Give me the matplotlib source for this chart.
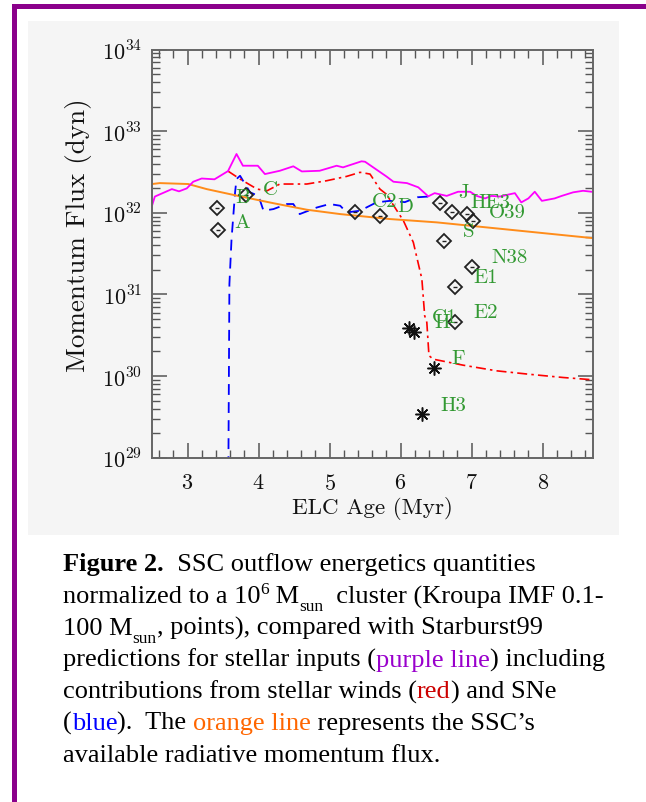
import numpy as np
import matplotlib

matplotlib.use("Agg")
import matplotlib.pyplot as plt
from matplotlib.patches import Rectangle
from matplotlib.ticker import LogLocator, MultipleLocator, FuncFormatter, NullFormatter

plt.rcParams["mathtext.fontset"] = "cm"
plt.rcParams["font.family"] = "cmr10"
plt.rcParams["axes.formatter.use_mathtext"] = True

W, H = 646, 803
UNIT = 1e32  # all fluxes below are in units of 1e32 dyn

# Starburst99 total stellar input (purple/magenta line)
total_age = [2.50, 2.54, 2.78, 2.88, 2.99, 3.08, 3.20, 3.38, 3.57, 3.69, 3.78, 3.99, 4.09,
             4.30, 4.49, 4.61, 4.86, 5.10, 5.19, 5.45, 5.50, 5.80, 5.90, 6.09, 6.25, 6.39,
             6.48, 6.65, 6.81, 6.98, 7.07, 7.19, 7.28, 7.40, 7.49, 7.61, 7.70, 7.80, 7.89,
             7.99, 8.17, 8.27, 8.43, 8.57, 8.69]
total_flux = [1.22, 1.58, 1.95, 1.83, 1.99, 2.40, 2.63, 2.57, 3.24, 5.25, 3.77, 3.77, 2.98,
              3.27, 3.71, 3.21, 3.27, 3.77, 3.60, 4.27, 4.22, 2.79, 2.40, 2.31, 2.05, 1.59,
              1.74, 1.61, 1.81, 1.81, 1.61, 1.50, 1.61, 1.58, 1.65, 1.74, 1.34, 1.50, 1.81,
              1.40, 1.50, 1.61, 1.78, 1.86, 1.81]

# stellar winds (red dash-dot)
wind_age = [3.57, 3.74, 3.98, 4.12, 4.30, 4.68, 4.96, 5.24, 5.43, 5.57, 5.71, 5.80, 6.04,
            6.18, 6.30, 6.34, 6.37, 6.40, 6.46, 6.88, 7.35, 7.82, 8.29, 8.71]
wind_flux = [3.24, 2.59, 1.95, 1.86, 2.25, 2.25, 2.47, 2.79, 3.13, 2.98, 1.95, 1.69, 0.80,
             0.434, 0.155, 0.0547, 0.0454, 0.0178, 0.0161, 0.0136, 0.0116, 0.0105, 0.0096,
             0.0090]

# supernovae (blue dashed)
sne_age = [3.57, 3.59, 3.62, 3.67, 3.69, 3.74, 3.88, 4.00, 4.07, 4.21, 4.40, 4.49, 4.58,
           4.82, 5.00, 5.15, 5.24, 5.43, 5.66, 5.85, 6.06, 6.24, 6.39]
sne_flux = [0.0001, 0.134, 0.476, 1.78, 2.59, 2.84, 1.78, 1.61, 1.06, 1.11, 1.28, 1.28, 0.964,
            1.16, 1.28, 1.22, 1.01, 1.06, 1.34, 1.40, 1.35, 1.55, 1.58]

# available radiative momentum flux (orange)
rad_age = [2.50, 2.61, 3.01, 3.27, 3.74, 4.21, 4.68, 5.15, 5.85, 6.51, 7.45, 8.70]
rad_flux = [2.25, 2.31, 2.25, 1.95, 1.59, 1.31, 1.09, 0.964, 0.838, 0.763, 0.631, 0.490]

# SSC measurements, diamonds
ssc_age = [3.42, 3.43, 3.82, 5.36, 5.71, 6.55, 6.73, 6.94, 7.02, 6.61, 7.01, 6.76, 6.77]
ssc_flux = [1.13, 0.62, 1.65, 1.03, 0.918, 1.31, 1.01, 0.964, 0.80, 0.454, 0.214, 0.122, 0.0454]

# SSC measurements, asterisks
star_age = [6.12, 6.19, 6.47, 6.30]
star_flux = [0.0383, 0.0342, 0.0124, 0.0034]

# cluster names
name_text = ["C", "B", "A", "C2", "D", "J", "HE3", "O39", "S", "N38", "E1", "E2", "C1", "H",
             "F", "H3"]
name_age = [4.17, 3.77, 3.77, 5.78, 6.07, 6.88, 7.26, 7.51, 6.96, 7.54, 7.20, 7.20, 6.62, 6.58,
            6.81, 6.74]
name_flux = [1.95, 1.55, 0.776, 1.40, 1.22, 1.78, 1.35, 1.02, 0.603, 0.286, 0.162, 0.0603,
             0.0525, 0.0454, 0.0166, 0.00447]


def px_rect(x, y, w, h, **kw):
    return Rectangle((x / W, 1 - (y + h) / H), w / W, h / H, transform=fig.transFigure, **kw)


fig = plt.figure(figsize=(W / 100, H / 100), dpi=100, facecolor="white")

# page frame and grey panel
fig.add_artist(px_rect(12, 5, 4.5, H, color="#8b008b", lw=0, zorder=-2))
fig.add_artist(px_rect(12, 5, W, 4.5, color="#8b008b", lw=0, zorder=-2))
fig.add_artist(px_rect(28, 22, 591, 514, color="#f5f5f5", lw=0, zorder=-1))

ax = fig.add_axes([152 / W, 1 - 458.7 / H, 441 / W, 408.2 / H])
ax.set_facecolor("#f5f5f5")

ax.plot(sne_age, np.array(sne_flux) * UNIT, color="#0000ff", lw=1.3, ls=(0, (6, 4)))
ax.plot(wind_age, np.array(wind_flux) * UNIT, color="#ff0000", lw=1.2, ls=(0, (6, 2.5, 1.5, 2.5)))
ax.plot(rad_age, np.array(rad_flux) * UNIT, color="#ff8c1a", lw=1.4)
ax.plot(total_age, np.array(total_flux) * UNIT, color="#ff00ff", lw=1.3)

ax.plot(ssc_age, np.array(ssc_flux) * UNIT, ls="none", marker="D", ms=7, mfc="none",
        mec="#222222", mew=1.3, zorder=4)
ax.plot(ssc_age, np.array(ssc_flux) * UNIT, ls="none", marker="_", ms=3.5, mec="#222222",
        mew=1.0, zorder=4)
ax.plot(star_age, np.array(star_flux) * UNIT, ls="none", marker=(8, 2, 0), ms=10, mec="#111111",
        mew=1.1, zorder=4)
ax.plot(star_age, np.array(star_flux) * UNIT, ls="none", marker="o", ms=3, mfc="#111111",
        mec="#111111", zorder=4)

for name, a, f in zip(name_text, name_age, name_flux):
    ax.text(a, f * UNIT, name, color="#339933", fontsize=15, ha="center", va="center", zorder=5)

ax.set_yscale("log")
ax.set_ylim(1e29, 1e34)
ax.set_xlim(2.5, 8.71)
ax.xaxis.set_major_locator(MultipleLocator(1))
ax.xaxis.set_minor_locator(MultipleLocator(0.2))
ax.yaxis.set_major_locator(LogLocator(base=10, numticks=10))
ax.yaxis.set_minor_locator(LogLocator(base=10, subs=np.arange(2, 10), numticks=100))
ax.yaxis.set_minor_formatter(NullFormatter())
ax.yaxis.set_major_formatter(FuncFormatter(lambda v, _: r"$10^{%d}$" % round(np.log10(v))))

ax.tick_params(which="both", direction="in", top=True, right=True, color="#555555",
               labelcolor="#111111", labelsize=16)
ax.tick_params(which="major", length=11, width=1.1, pad=11)
ax.tick_params(which="minor", length=6, width=1.0)
ax.tick_params(axis="y", which="major", pad=7)
for s in ax.spines.values():
    s.set_color("#666666")
    s.set_linewidth(1.4)

ax.set_xlabel("ELC Age (Myr)", fontsize=16.6, color="#111111")
ax.set_ylabel("Momentum Flux (dyn)", fontsize=19.5, color="#111111")
ax.xaxis.set_label_coords(0.5, -0.094)
ax.yaxis.set_label_coords(-0.135, 0.548)

# caption, drawn run by run so colours / sub- and superscripts line up
cap = dict(family="Liberation Serif", fontsize=19, color="black")
small = dict(cap, fontsize=12.5)
renderer = fig.canvas.get_renderer()


def run_width(s, props):
    t1 = fig.text(0, 0, "|" + s + "|", **props)
    t2 = fig.text(0, 0, "||", **props)
    w = t1.get_window_extent(renderer).width - t2.get_window_extent(renderer).width
    t1.remove()
    t2.remove()
    return w


caption_lines = [
    [("Figure 2.", dict(cap, weight="bold"), 0), ("  SSC outflow energetics quantities", cap, 0)],
    [("normalized to a 10", cap, 0), ("6", small, -9), (" M", cap, 0), ("sun", small, 8),
     ("  cluster (Kroupa IMF 0.1-", cap, 0)],
    [("100 M", cap, 0), ("sun", small, 8), (", points), compared with Starburst99", cap, 0)],
    [("predictions for stellar inputs (", cap, 0), ("purple line", dict(cap, color="#9900cc"), 0),
     (") including", cap, 0)],
    [("contributions from stellar winds (", cap, 0), ("red", dict(cap, color="#cc0000"), 0),
     (") and SNe", cap, 0)],
    [("(", cap, 0), ("blue", dict(cap, color="#0000ff"), 0), (").  The ", cap, 0),
     ("orange line", dict(cap, color="#ff6600"), 0), (" represents the SSC\u2019s", cap, 0)],
    [("available radiative momentum flux.", cap, 0)],
]
baseline0, line_step, x0 = 571.5, 31.7, 63
for i, runs in enumerate(caption_lines):
    x = x0
    yb = baseline0 + i * line_step
    for s, props, dy in runs:
        fig.text(x / W, 1 - (yb + dy) / H, s, va="baseline", ha="left", **props)
        x += run_width(s, props)

fig.savefig("out.png", dpi=100, facecolor="white")
